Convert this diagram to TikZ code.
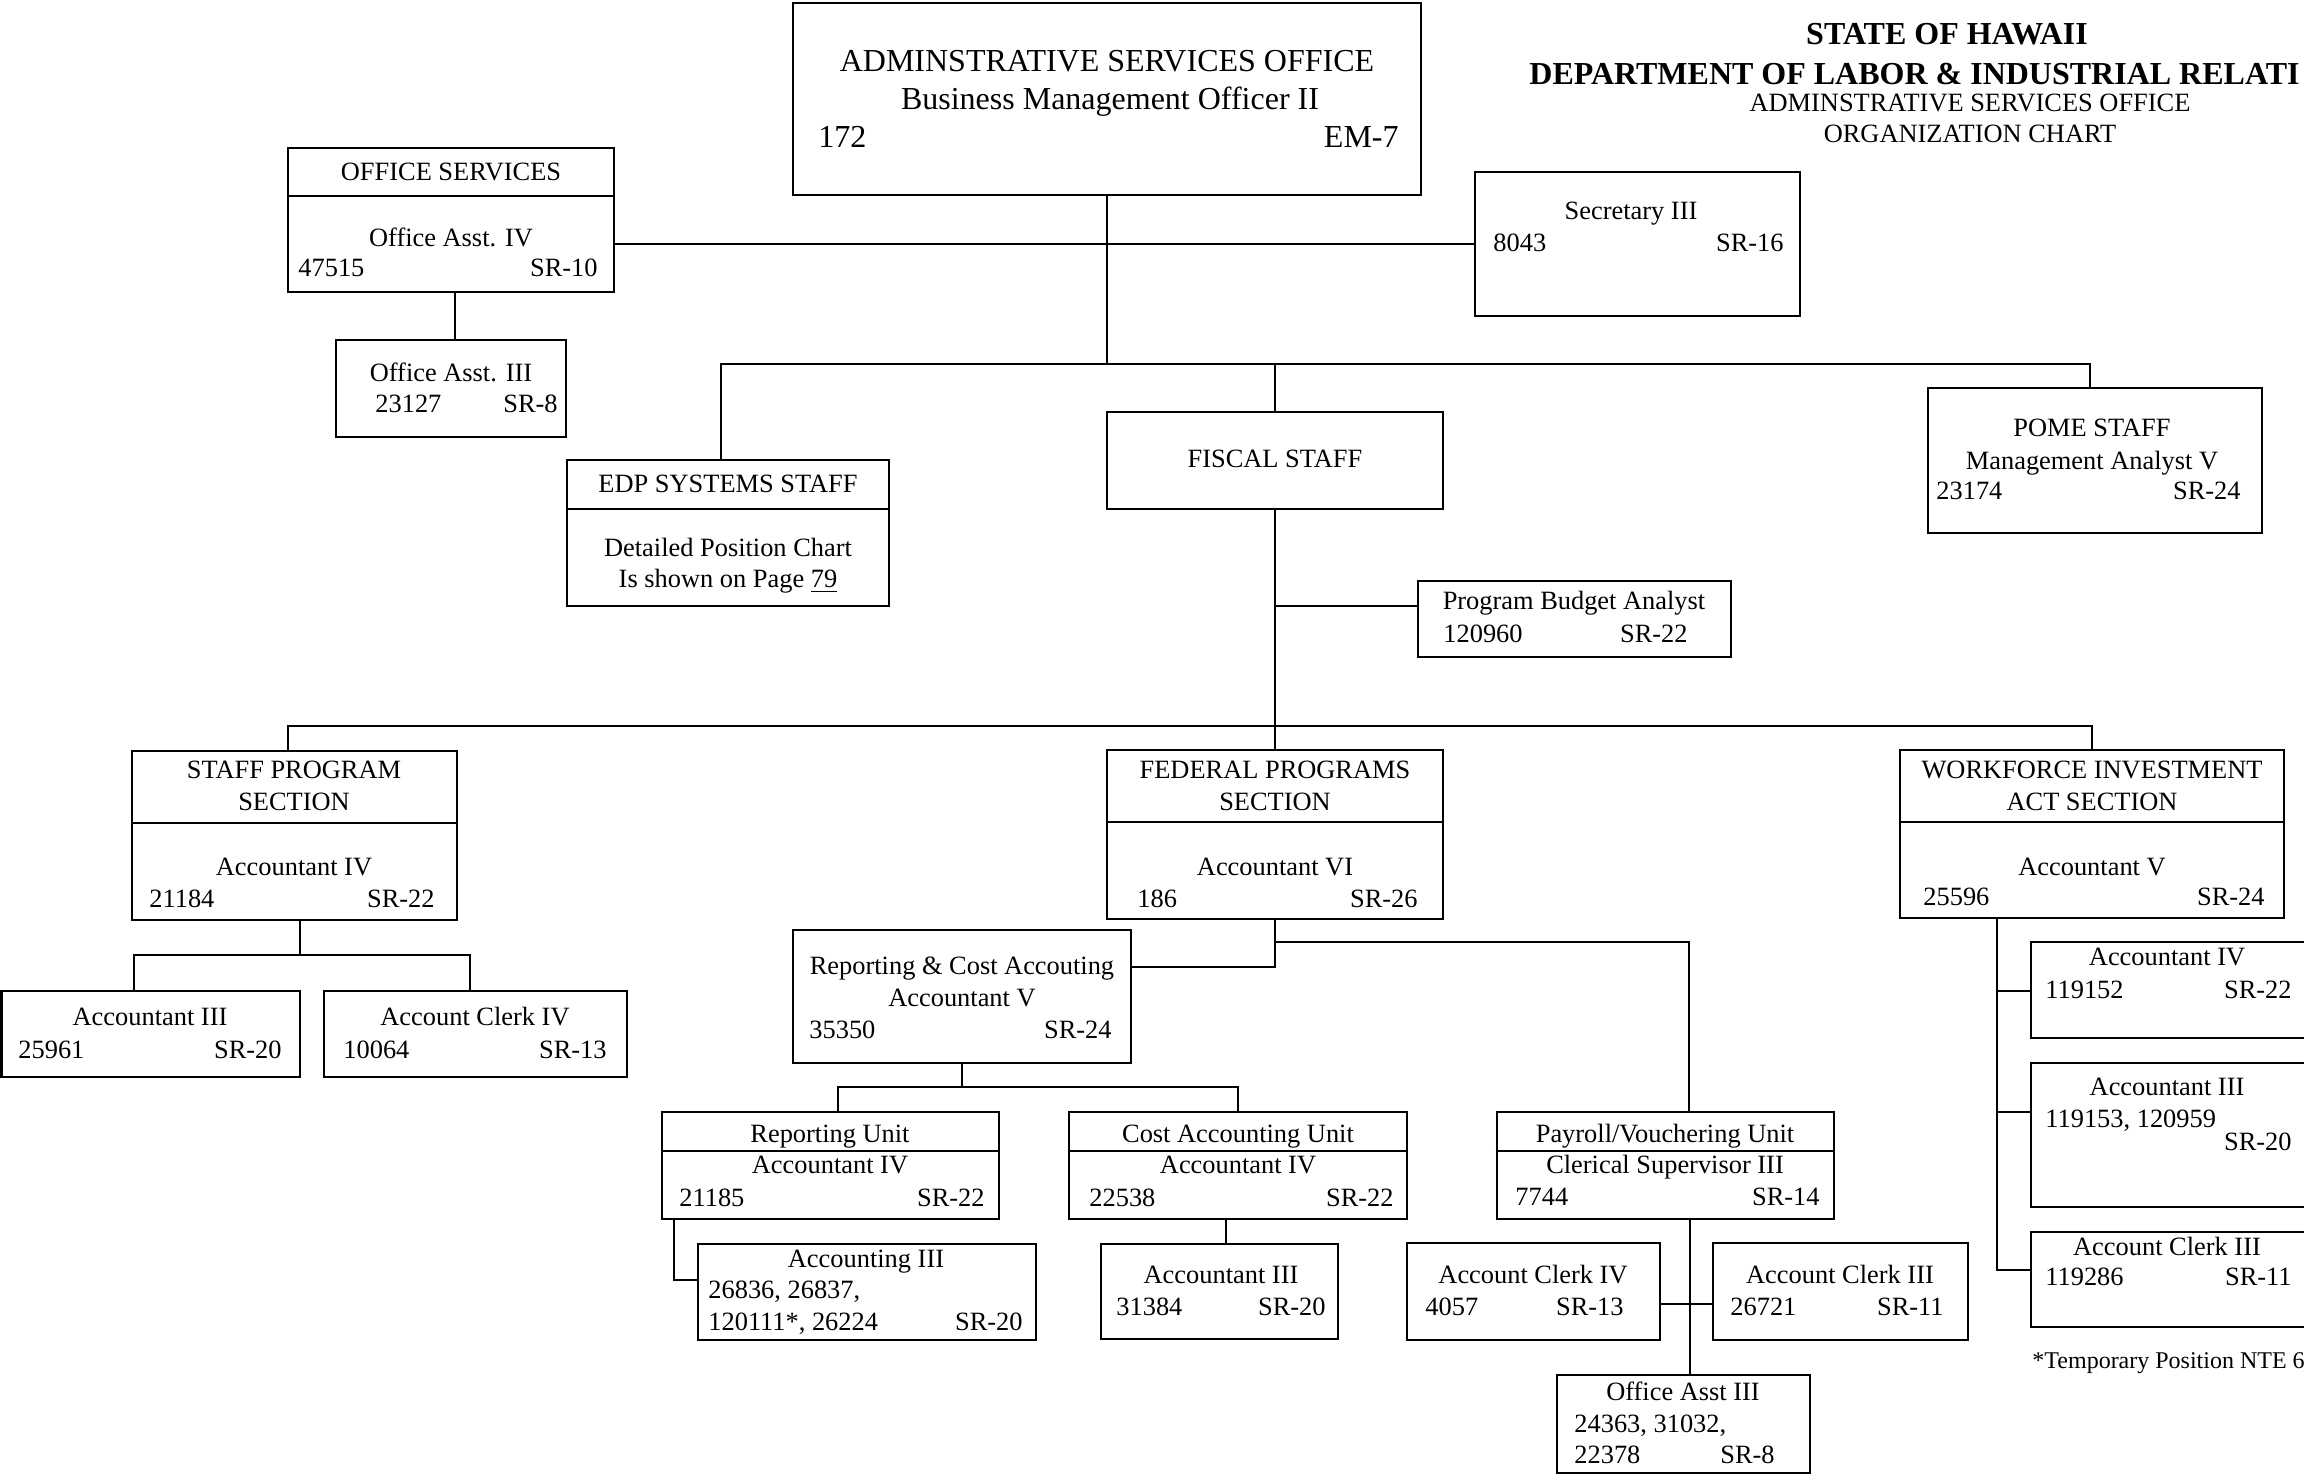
\documentclass[tikz,border=0pt]{standalone}
\usepackage{fontspec}
\setmainfont{Liberation Serif}
\usetikzlibrary{fit}
\newcommand\mkbox[5]{\node[orgbox, fit={(#2,#3) (#4,#5)}] (#1) {};}
\newcommand\txC[4]{\node[tx,anchor=base] (#1) at (#2,#3) {#4};}
\newcommand\txL[4]{\node[tx,anchor=base west] (#1) at (#2,#3) {#4};}
\newcommand\txR[4]{\node[tx,anchor=base east] (#1) at (#2,#3) {#4};}
\begin{document}
\begin{tikzpicture}[x=0.5pt,y=-0.5pt,
  orgbox/.style={draw, line width=1.1pt, inner sep=0pt},
  divl/.style={line width=1.1pt},
  con/.style={line width=0.9pt},
  tx/.style={font=\fontsize{13.2}{15}\selectfont, inner sep=0pt},
  bigtx/.style={font=\fontsize{16}{19}\selectfont, inner sep=0pt},
  ttl/.style={font=\bfseries\fontsize{16}{19}\selectfont, inner sep=0pt},
  foot/.style={font=\fontsize{12}{14}\selectfont, inner sep=0pt}]
\useasboundingbox (0,0) rectangle (2304,1476);
\fill[white] (0,0) rectangle (2304,1476);
\clip (0,0) rectangle (2304,1476);

% ---------- title ----------
\node[ttl,anchor=base] (t1) at (1947,45) {STATE OF HAWAII};
\node[ttl,anchor=base west] (t2) at (1529,85) {DEPARTMENT OF LABOR \& INDUSTRIAL RELATI};
\txC{t3}{1970}{112}{ADMINSTRATIVE SERVICES OFFICE}
\txC{t4}{1970}{143}{ORGANIZATION CHART}

% ---------- boxes ----------
\mkbox{main}{793}{3}{1421}{195}
\mkbox{ofs}{288}{148}{614}{292}
\mkbox{oa3}{336}{340}{566}{437}
\mkbox{sec}{1475}{172}{1800}{316}
\mkbox{edp}{567}{460}{889}{606}
\mkbox{fis}{1107}{412}{1443}{509}
\mkbox{pome}{1928}{388}{2262}{533}
\mkbox{pba}{1418}{581}{1731}{657}
\mkbox{spg}{132}{751}{457}{920}
\mkbox{fed}{1107}{750}{1443}{919}
\mkbox{wia}{1900}{750}{2284}{918}
\mkbox{sa3}{1.5}{991}{300}{1077}
\mkbox{sac4}{324}{991}{627}{1077}
\mkbox{rc}{793}{930}{1131}{1063}
\mkbox{ru}{662}{1112}{999}{1219}
\mkbox{cau}{1069}{1112}{1407}{1219}
\mkbox{acc3}{698}{1244}{1036}{1340}
\mkbox{ca3}{1101}{1244}{1338}{1339}
\mkbox{pay}{1497}{1112}{1834}{1219}
\mkbox{pac4}{1407}{1243}{1660}{1340}
\mkbox{pac3}{1713}{1243}{1968}{1340}
\mkbox{poa3}{1557}{1375}{1810}{1473}
\mkbox{w1}{2031}{942}{2310}{1038}
\mkbox{w2}{2031}{1063}{2310}{1207}
\mkbox{w3}{2031}{1232}{2310}{1327}

% ---------- dividers ----------
\draw[divl] (ofs.west |- 0,196) -- (ofs.east |- 0,196);
\draw[divl] (edp.west |- 0,509) -- (edp.east |- 0,509);
\draw[divl] (spg.west |- 0,823) -- (spg.east |- 0,823);
\draw[divl] (fed.west |- 0,822) -- (fed.east |- 0,822);
\draw[divl] (wia.west |- 0,822) -- (wia.east |- 0,822);
\draw[divl] (ru.west |- 0,1151) -- (ru.east |- 0,1151);
\draw[divl] (cau.west |- 0,1151) -- (cau.east |- 0,1151);
\draw[divl] (pay.west |- 0,1151) -- (pay.east |- 0,1151);

% ---------- connectors ----------
\coordinate (h1) at (1107,364);
\coordinate (h2) at (1275,726);
\draw[con] (ofs.east |- 0,244) -- (sec.west |- 0,244);
\draw[con] (455,0 |- ofs.south) -- (455,0 |- oa3.north);
\draw[con] (main.south) -- (h1);
\draw[con] (721,0 |- edp.north) |- (2090,0 |- h1) -- (2090,0 |- pome.north);
\draw[con] (fis.north |- h1) -- (fis.north);
\draw[con] (fis.south) -- (fed.north);
\draw[con] (fis.south |- 0,606) -- (pba.west |- 0,606);
\draw[con] (288,0 |- spg.north) |- (wia.north |- h2) -- (wia.north);
\draw[con] (300,0 |- spg.south) -- (300,955);
\draw[con] (134,0 |- sa3.north) |- (470,0 |- 0,955) -- (470,0 |- sac4.north);
\draw[con] (fed.south) -- (fed.south |- 0,967) -- (rc.east |- 0,967);
\draw[con] (fed.south |- 0,942) -| (1689,0 |- pay.north);
\draw[con] (rc.south) -- (rc.south |- 0,1087);
\draw[con] (838,0 |- ru.north) |- (cau.north |- 0,1087) -- (cau.north);
\draw[con] (674,0 |- ru.south) |- (acc3.west |- 0,1280);
\draw[con] (1226,0 |- cau.south) -- (1226,0 |- ca3.north);
\draw[con] (1690,0 |- pay.south) -- (1690,0 |- poa3.north);
\draw[con] (pac4.east |- 0,1304) -- (pac3.west |- 0,1304);
\draw[con] (1997,0 |- wia.south) |- (w3.west |- 0,1270);
\draw[con] (1997,991) -- (w1.west |- 0,991);
\draw[con] (1997,1112) -- (w2.west |- 0,1112);

% ---------- texts ----------
\node[bigtx,anchor=base] (m1) at (1107,72) {ADMINSTRATIVE SERVICES OFFICE};
\node[bigtx,anchor=base] (m2) at (1110,110) {Business Management Officer II};
\node[bigtx,anchor=base west] (m3) at (818,148) {172};
\node[bigtx,anchor=base east] (m4) at (1399,148) {EM-7};

\txC{o1}{451}{181}{OFFICE SERVICES}
\txC{o2}{451}{247}{Office Asst. IV}
\txL{o3}{298}{277}{47515}
\txR{o4}{598}{277}{SR-10}

\txC{q1}{451}{382}{Office Asst. III}
\txL{q2}{375}{413}{23127}
\txR{q3}{558}{413}{SR-8}

\txC{s1}{1631}{220}{Secretary III}
\txL{s2}{1493}{252}{8043}
\txR{s3}{1784}{252}{SR-16}

\txC{e1}{728}{493}{EDP SYSTEMS STAFF}
\txC{e2}{728}{557}{Detailed Position Chart}
\txC{e3}{728}{588}{Is shown on Page \underline{79}}

\txC{f1}{1275}{468}{FISCAL STAFF}

\txC{p1}{2092}{437}{POME STAFF}
\txC{p2}{2092}{470}{Management Analyst V}
\txL{p3}{1936}{500}{23174}
\txR{p4}{2241}{500}{SR-24}

\txC{b1}{1574}{610}{Program Budget Analyst}
\txL{b2}{1443}{642}{120960}
\txR{b3}{1688}{642}{SR-22}

\txC{g1}{294}{778}{STAFF PROGRAM}
\txC{g2}{294}{810}{SECTION}
\txC{g3}{294}{875}{Accountant IV}
\txL{g4}{149}{907}{21184}
\txR{g5}{435}{907}{SR-22}

\txC{d1}{1275}{778}{FEDERAL PROGRAMS}
\txC{d2}{1275}{810}{SECTION}
\txC{d3}{1275}{875}{Accountant VI}
\txL{d4}{1137}{907}{186}
\txR{d5}{1418}{907}{SR-26}

\txC{w1a}{2092}{778}{WORKFORCE INVESTMENT}
\txC{w1b}{2092}{810}{ACT SECTION}
\txC{w1c}{2092}{875}{Accountant V}
\txL{w1d}{1923}{905}{25596}
\txR{w1e}{2265}{905}{SR-24}

\txC{k1}{150}{1025}{Accountant III}
\txL{k2}{18}{1058}{25961}
\txR{k3}{282}{1058}{SR-20}

\txC{k4}{475}{1025}{Account Clerk IV}
\txL{k5}{343}{1058}{10064}
\txR{k6}{607}{1058}{SR-13}

\txC{r1}{962}{974}{Reporting \& Cost Accouting}
\txC{r2}{962}{1006}{Accountant V}
\txL{r3}{809}{1038}{35350}
\txR{r4}{1112}{1038}{SR-24}

\txC{u1}{830}{1142}{Reporting Unit}
\txC{u2}{830}{1173}{Accountant IV}
\txL{u3}{679}{1206}{21185}
\txR{u4}{985}{1206}{SR-22}

\txC{c1}{1238}{1142}{Cost Accounting Unit}
\txC{c2}{1238}{1173}{Accountant IV}
\txL{c3}{1089}{1206}{22538}
\txR{c4}{1394}{1206}{SR-22}

\txC{a1}{866}{1267}{Accounting III}
\txL{a2}{708}{1298}{26836, 26837,}
\txL{a3}{708}{1330}{120111*, 26224}
\txR{a4}{1023}{1330}{SR-20}

\txC{n1}{1221}{1283}{Accountant III}
\txL{n2}{1116}{1315}{31384}
\txR{n3}{1326}{1315}{SR-20}

\txC{y1}{1665}{1142}{Payroll/Vouchering Unit}
\txC{y2}{1665}{1173}{Clerical Supervisor III}
\txL{y3}{1515}{1205}{7744}
\txR{y4}{1820}{1205}{SR-14}

\txC{v1}{1533}{1283}{Account Clerk IV}
\txL{v2}{1425}{1315}{4057}
\txR{v3}{1624}{1315}{SR-13}

\txC{v4}{1840}{1283}{Account Clerk III}
\txL{v5}{1730}{1315}{26721}
\txR{v6}{1944}{1315}{SR-11}

\txC{z1}{1683}{1400}{Office Asst III}
\txL{z2}{1574}{1432}{24363, 31032,}
\txL{z3}{1574}{1463}{22378}
\txR{z4}{1775}{1463}{SR-8}

\txC{x1}{2167}{965}{Accountant IV}
\txL{x2}{2045}{998}{119152}
\txR{x3}{2292}{998}{SR-22}

\txC{x4}{2167}{1095}{Accountant III}
\txL{x5}{2045}{1127}{119153, 120959}
\txR{x6}{2292}{1150}{SR-20}

\txC{x7}{2167}{1255}{Account Clerk III}
\txL{x8}{2045}{1285}{119286}
\txR{x9}{2292}{1285}{SR-11}

\node[foot,anchor=base west] (fn) at (2032,1368) {*Temporary Position NTE 6};
\end{tikzpicture}
\end{document}
